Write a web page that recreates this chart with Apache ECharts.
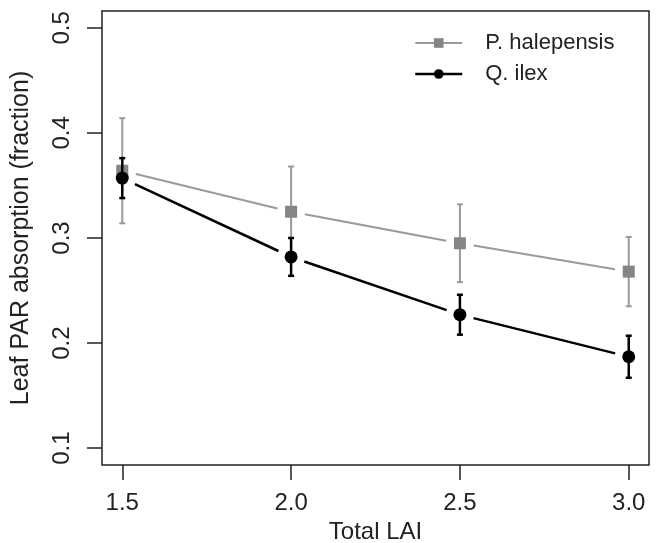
<!DOCTYPE html>
<html><head><meta charset="utf-8">
<script src="https://cdn.jsdelivr.net/npm/echarts@6/dist/echarts.min.js"></script>
<style>html,body{margin:0;padding:0;background:#fff}#c{width:657px;height:543px}</style>
</head><body><div id="c"></div>
<script>
// ---- data ----
var lai = [1.5, 2.0, 2.5, 3.0];
var xTicks = [1.5, 2.0, 2.5, 3.0];
var yTicks = [0.1, 0.2, 0.3, 0.4, 0.5];
var halepensis = [0.364, 0.325, 0.295, 0.268];
var halepensisErr = [0.050, 0.043, 0.037, 0.033];
var ilex = [0.357, 0.282, 0.227, 0.187];
var ilexErr = [0.019, 0.018, 0.019, 0.020];
var seriesNames = ['P. halepensis', 'Q. ilex'];
var xName = 'Total LAI';
var yName = 'Leaf PAR absorption (fraction)';

var FONT = '"Liberation Sans", Arial, Helvetica, sans-serif';
var GRAY_LINE = '#9a9a9a', GRAY_PT = '#858585', BLACK = '#000';

function pts(v) { return lai.map(function (x, i) { return [x, v[i]]; }); }
function errs(v, e) { return lai.map(function (x, i) { return [x, v[i] - e[i], v[i] + e[i]]; }); }
function segs(v) {
  var out = [];
  for (var i = 0; i < lai.length - 1; i++) out.push([lai[i], v[i], lai[i + 1], v[i + 1]]);
  return out;
}
function errRender(color, w) {
  return function (params, api) {
    var x = api.value(0);
    var lo = api.coord([x, api.value(1)]);
    var hi = api.coord([x, api.value(2)]);
    var c = 3;
    var st = { stroke: color, lineWidth: w, fill: null };
    return { type: 'group', children: [
      { type: 'line', shape: { x1: lo[0], y1: lo[1], x2: hi[0], y2: hi[1] }, style: st },
      { type: 'line', shape: { x1: lo[0] - c, y1: lo[1], x2: lo[0] + c, y2: lo[1] }, style: st },
      { type: 'line', shape: { x1: hi[0] - c, y1: hi[1], x2: hi[0] + c, y2: hi[1] }, style: st }
    ]};
  };
}
function segRender(color, w, gap) {
  return function (params, api) {
    var a = api.coord([api.value(0), api.value(1)]);
    var b = api.coord([api.value(2), api.value(3)]);
    var dx = b[0] - a[0], dy = b[1] - a[1], L = Math.sqrt(dx * dx + dy * dy);
    var ux = dx / L, uy = dy / L;
    return { type: 'line', shape: { x1: a[0] + ux * gap, y1: a[1] + uy * gap, x2: b[0] - ux * gap, y2: b[1] - uy * gap },
      style: { stroke: color, lineWidth: w } };
  };
}

var chart = echarts.init(document.getElementById('c'), null, { renderer: 'canvas' });
chart.setOption({
  animation: false,
  backgroundColor: '#fff',
  grid: { left: 102, right: 8, top: 11, bottom: 78, show: true, borderColor: '#222', borderWidth: 1.5,
    containLabel: false, outerBoundsMode: 'none' },
  legend: {
    left: 414, top: 32, padding: 0, orient: 'vertical', itemWidth: 47, itemHeight: 12, itemGap: 9,
    textStyle: { fontFamily: FONT, fontSize: 22, color: '#222', padding: [0, 0, 0, 18] },
    data: [
      { name: seriesNames[0], lineStyle: { opacity: 1, width: 2, color: GRAY_LINE } },
      { name: seriesNames[1], lineStyle: { opacity: 1, width: 2.5, color: BLACK } }
    ]
  },
  xAxis: {
    type: 'value', min: 1.44, max: 3.06,
    name: xName, nameLocation: 'middle', nameGap: 54,
    nameTextStyle: { fontFamily: FONT, fontSize: 24, color: '#222' },
    axisLine: { show: false },
    splitLine: { show: false },
    axisTick: { show: true, length: 15, customValues: xTicks, lineStyle: { color: '#222', width: 1.5 } },
    axisLabel: { customValues: xTicks, margin: 26, fontFamily: FONT, fontSize: 24, color: '#222',
      formatter: function (v) { return v.toFixed(1); } }
  },
  yAxis: {
    type: 'value', min: 0.084, max: 0.516,
    name: yName, nameLocation: 'middle', nameGap: 68, nameRotate: 90,
    nameTextStyle: { fontFamily: FONT, fontSize: 25, color: '#222' },
    axisLine: { show: false },
    splitLine: { show: false },
    axisTick: { show: true, length: 15, customValues: yTicks, lineStyle: { color: '#222', width: 1.5 } },
    axisLabel: { customValues: yTicks, rotate: 90, margin: 28, fontFamily: FONT, fontSize: 24, color: '#222',
      formatter: function (v) { return v.toFixed(1); } }
  },
  series: [
    { type: 'custom', name: seriesNames[0] + ' line', coordinateSystem: 'cartesian2d', renderItem: segRender(GRAY_LINE, 2, 14),
      data: segs(halepensis), z: 2, silent: true },
    { type: 'custom', name: seriesNames[0] + ' err', coordinateSystem: 'cartesian2d', renderItem: errRender(GRAY_LINE, 2),
      data: errs(halepensis, halepensisErr), z: 2, silent: true },
    { type: 'line', name: seriesNames[0], data: pts(halepensis), symbol: 'rect', symbolSize: 12,
      itemStyle: { color: GRAY_PT }, lineStyle: { opacity: 0 }, z: 3 },
    { type: 'custom', name: seriesNames[1] + ' line', coordinateSystem: 'cartesian2d', renderItem: segRender(BLACK, 2.5, 14),
      data: segs(ilex), z: 4, silent: true },
    { type: 'custom', name: seriesNames[1] + ' err', coordinateSystem: 'cartesian2d', renderItem: errRender(BLACK, 2.5),
      data: errs(ilex, ilexErr), z: 4, silent: true },
    { type: 'line', name: seriesNames[1], data: pts(ilex), symbol: 'circle', symbolSize: 13,
      itemStyle: { color: BLACK }, lineStyle: { opacity: 0 }, z: 5 }
  ]
});
</script></body></html>
